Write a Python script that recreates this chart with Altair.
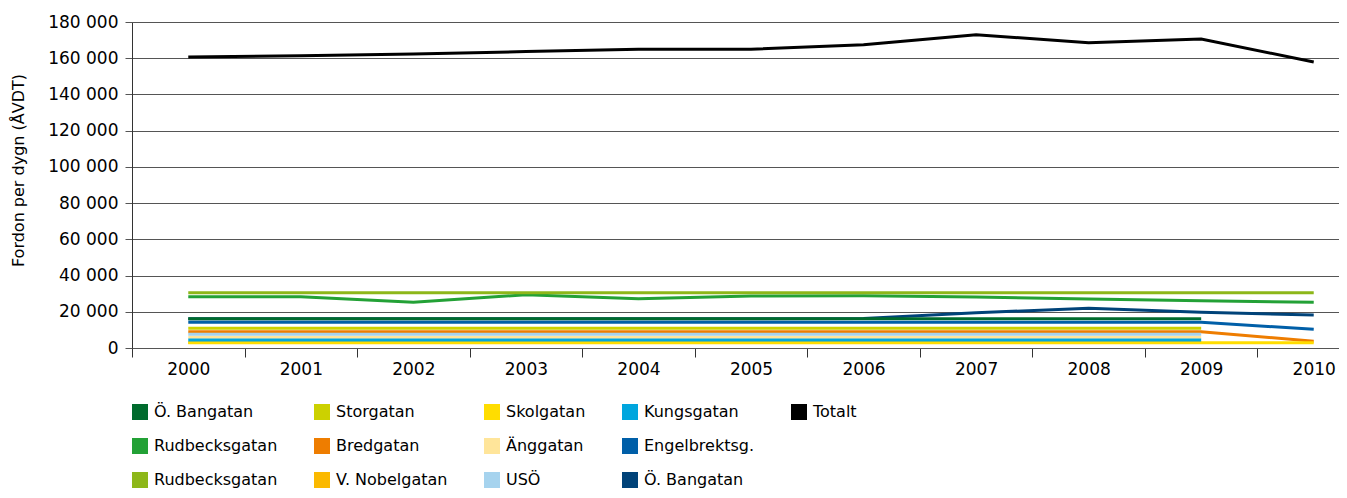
import altair as alt
import pandas as pd

years = [str(y) for y in range(2000, 2011)]

# series in drawing order (key, display name, colour, values 2000..2010; None = missing)
keys = ["a00", "a01", "a02", "a03", "a04", "a05", "a06", "a07", "a08", "a09", "a10", "a11", "a13"]
names = ["Ö. Bangatan", "Ö. Bangatan", "Rudbecksgatan", "Rudbecksgatan", "Storgatan", "Bredgatan",
         "V. Nobelgatan", "Skolgatan", "Änggatan", "USÖ", "Kungsgatan", "Engelbrektsg.",
         "Totalt"]
colors = ["#004379", "#006B2D", "#23A136", "#8DB719", "#CCD100", "#EE7D00",
          "#FBB900", "#FFDD00", "#FFE59A", "#A6D3EE", "#00A6DE", "#005FA8",
          "#000000"]

ob_bangatan_2 = [16200, 16200, 16200, 16200, 16200, 16200, 16300, 19500, 21900, 19700, 18200]
ob_bangatan_1 = [16200, 16200, 16200, 16200, 16200, 16200, 16200, 16200, 16200, 16200, None]
rudbecksgatan_1 = [28300, 28300, 25200, 29400, 27200, 28700, 28800, 28100, 27100, 26100, 25200]
rudbecksgatan_2 = [30500, 30500, 30500, 30500, 30500, 30500, 30500, 30500, 30500, 30500, 30500]
storgatan = [10900, 10900, 10900, 10900, 10900, 10900, 10900, 10900, 10900, 10900, None]
bredgatan = [9000, 9000, 9000, 9000, 9000, 9000, 9000, 9000, 9000, 9000, 3700]
v_nobelgatan = [3000, 3000, 3000, 3000, 3000, 3000, 3000, 3000, 3000, 3000, None]
skolgatan = [2900, 2900, 2900, 2900, 2900, 2900, 2900, 2900, 2900, 2900, 2900]
anggatan = [6000, 6000, 6000, 6000, 6000, 6000, 6000, 6000, 6000, 6000, None]
uso = [7600, 7600, 7600, 7600, 7600, 7600, 7600, 7600, 7600, 7600, None]
kungsgatan = [4400, 4400, 4400, 4400, 4400, 4400, 4400, 4400, 4400, 4400, None]
engelbrektsg = [14200, 14200, 14200, 14200, 14200, 14200, 14200, 14200, 14200, 14200, 10300]
totalt = [160700, 161400, 162300, 163700, 165000, 165000, 167500, 173000, 168500, 170600, 157900]

series_values = [ob_bangatan_2, ob_bangatan_1, rudbecksgatan_1, rudbecksgatan_2, storgatan,
                 bredgatan, v_nobelgatan, skolgatan, anggatan, uso, kungsgatan, engelbrektsg,
                 totalt]

# legend order (row-major, 5 columns; "zz" is an empty slot)
legend_order = ["a01", "a04", "a07", "a10", "a13",
                "a02", "a05", "a08", "a11", "zz",
                "a03", "a06", "a09", "a00"]

rows = []
for k, vals in zip(keys, series_values):
    for y, v in zip(years, vals):
        if v is not None:
            rows.append({"key": k, "year": y, "value": v})
df = pd.DataFrame(rows)

color_of = dict(zip(keys, colors))
color_of["zz"] = "#ffffff"
name_map = "{" + ", ".join(f"'{k}': '{n}'" for k, n in zip(keys, names)) + ", 'zz': ''}"

FONT = "DejaVu Sans"

chart = alt.Chart(df).mark_line(strokeWidth=3, strokeCap="butt").encode(
    x=alt.X("year:O", scale=alt.Scale(type="band", paddingInner=0, paddingOuter=0,
                                      range=[0, 1238]),
            axis=alt.Axis(title=None, labelAngle=0, tickBand="extent", tickSize=9,
                          labelPadding=4, labelFontSize=17, labelFont=FONT, labelColor="#000",
                          domainColor="#555", tickColor="#333", grid=False)),
    y=alt.Y("value:Q", scale=alt.Scale(domain=[0, 180000], nice=False),
            axis=alt.Axis(title="Fordon per dygn (ÅVDT)", values=list(range(0, 180001, 20000)),
                          labelExpr="replace(format(datum.value, ','), ',', ' ')",
                          tickSize=7, labelPadding=7, labelFontSize=17, labelFont=FONT,
                          labelColor="#000", domainColor="#333", tickColor="#555",
                          gridColor="#555", gridWidth=1, titleFontSize=16, titleFont=FONT,
                          titleFontWeight="normal", titleColor="#000",
                          titleX=-114, titleY=148, titleAngle=270,
                          titleAlign="center", titleBaseline="middle")),
    color=alt.Color("key:N",
                    scale=alt.Scale(domain=legend_order, range=[color_of[k] for k in legend_order]),
                    legend=alt.Legend(title=None, orient="none", legendX=0, legendY=382,
                                      direction="horizontal",
                                      columns=5, symbolType="square", symbolSize=64,
                                      symbolStrokeWidth=8, symbolOpacity=1,
                                      labelFontSize=16, labelFont=FONT, labelColor="#000",
                                      labelOffset=6, rowPadding=-6, columnPadding=24,
                                      padding=0, labelLimit=300,
                                      labelExpr=name_map + "[datum.label]")),
    order=alt.Order("year:O"),
).properties(
    width=1207, height=326,
    autosize=alt.AutoSizeParams(type="none"),
    padding={"left": 124, "top": 14, "right": 0, "bottom": 142},
).configure_view(stroke=None).configure(font=FONT)

chart.save("out.html", embed_options={"renderer": "svg", "actions": False})
